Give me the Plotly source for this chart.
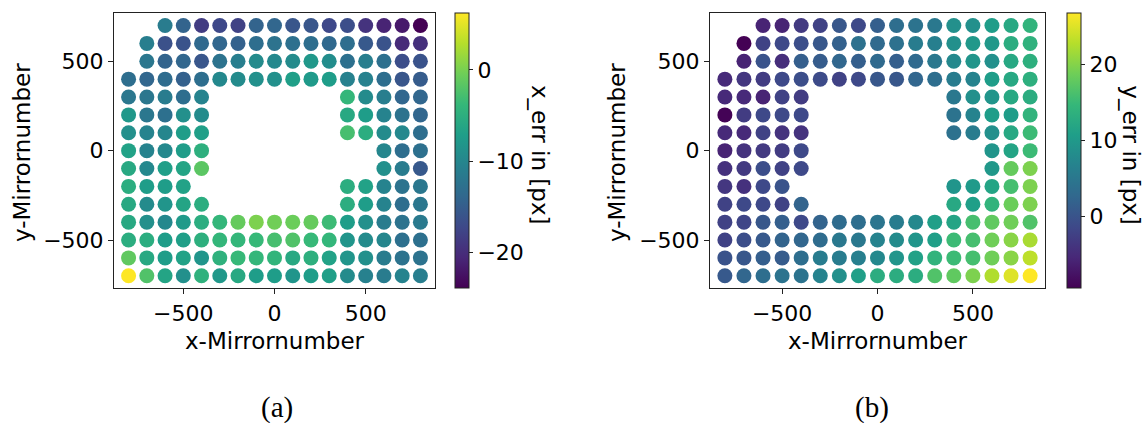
import plotly.graph_objects as go

W, H = 1147, 423

# Mirror grid rows (y-Mirrornumber) and the x-Mirrornumbers present in each row
row_y = [700, 600, 500, 400, 300, 200, 100, 0, -100, -200, -300, -400, -500, -600, -700]
row_x = [
    [-600, -500, -400, -300, -200, -100, 0, 100, 200, 300, 400, 500, 600, 700, 800],
    [-700, -600, -500, -400, -300, -200, -100, 0, 100, 200, 300, 400, 500, 600, 700, 800],
    [-700, -600, -500, -400, -300, -200, -100, 0, 100, 200, 300, 400, 500, 600, 700, 800],
    [-800, -700, -600, -500, -400, -300, -200, -100, 0, 100, 200, 300, 400, 500, 600, 700, 800],
    [-800, -700, -600, -500, -400, 400, 500, 600, 700, 800],
    [-800, -700, -600, -500, -400, 400, 500, 600, 700, 800],
    [-800, -700, -600, -500, -400, 400, 500, 600, 700, 800],
    [-800, -700, -600, -500, -400, 600, 700, 800],
    [-800, -700, -600, -500, -400, 600, 700, 800],
    [-800, -700, -600, -500, 400, 500, 600, 700, 800],
    [-800, -700, -600, -500, -400, 400, 500, 600, 700, 800],
    [-800, -700, -600, -500, -400, -300, -200, -100, 0, 100, 200, 300, 400, 500, 600, 700, 800],
    [-800, -700, -600, -500, -400, -300, -200, -100, 0, 100, 200, 300, 400, 500, 600, 700, 800],
    [-800, -700, -600, -500, -400, -300, -200, -100, 0, 100, 200, 300, 400, 500, 600, 700, 800],
    [-800, -700, -600, -500, -400, -300, -200, -100, 0, 100, 200, 300, 400, 500, 600, 700, 800],
]

# x error [px] per mirror, same row order as row_x
x_err_rows = [
    [-11.3, -14.3, -18.5, -17.3, -17.9, -14.3, -14.0, -15.8, -15.8, -17.3, -16.7, -19.4, -20.9, -21.8, -23.9],
    [-11.0, -16.4, -16.1, -13.7, -14.0, -14.6, -13.1, -12.5, -12.8, -13.1, -13.7, -13.1, -15.5, -16.1, -20.3, -19.7],
    [-11.9, -14.3, -14.0, -15.8, -12.5, -11.0, -9.5, -9.8, -9.5, -7.9, -9.2, -12.8, -11.0, -12.8, -16.7, -16.1],
    [-13.1, -14.0, -13.4, -14.6, -13.1, -9.8, -9.5, -8.9, -8.9, -7.0, -7.6, -7.3, -10.7, -10.7, -13.1, -15.8, -15.2],
    [-11.9, -11.9, -11.3, -13.1, -10.4, -4.0, -9.5, -11.0, -14.0, -14.0],
    [-7.9, -11.9, -12.8, -8.9, -9.5, -5.8, -7.3, -10.4, -12.5, -14.0],
    [-8.9, -10.4, -10.1, -7.3, -7.0, -2.8, -5.2, -9.5, -9.8, -13.1],
    [-6.7, -10.4, -9.8, -7.3, -4.9, -10.1, -13.1, -12.8],
    [-5.8, -9.8, -7.0, -6.4, -1.6, -8.9, -11.3, -15.5],
    [-5.2, -7.3, -7.3, -6.7, -5.2, -6.7, -10.4, -12.5, -11.9],
    [-5.8, -9.5, -8.2, -6.4, -5.2, -5.2, -7.3, -10.4, -13.1, -11.9],
    [-5.8, -8.9, -9.8, -7.6, -5.2, -4.0, -1.0, 0.2, -0.4, -0.7, -1.0, -3.4, -7.3, -8.9, -11.3, -12.5, -11.6],
    [-5.2, -5.2, -7.3, -7.0, -4.9, -4.0, -4.0, -3.7, -2.8, -2.2, -3.7, -4.0, -8.2, -9.5, -10.1, -12.8, -12.8],
    [-1.3, -5.8, -7.3, -6.7, -8.2, -4.6, -3.7, -4.0, -4.3, -5.8, -4.9, -6.7, -8.2, -8.9, -11.3, -12.5, -12.5],
    [6.2, -2.2, -6.4, -8.9, -4.6, -7.9, -5.8, -7.3, -7.3, -8.2, -7.3, -7.0, -9.5, -10.7, -11.3, -10.4, -11.0],
]

# y error [px] per mirror, same row order as row_x
y_err_rows = [
    [-5.9, -5.9, -3.3, -2.3, 0.3, -1.5, 1.4, 3.5, 4.3, 5.0, 8.6, 8.6, 10.4, 12.2, 14.0],
    [-9.5, -2.3, -1.5, -0.8, 0.3, 1.7, 3.9, 2.8, 3.9, 5.7, 6.1, 8.6, 9.7, 9.7, 12.9, 13.7],
    [-5.9, -0.1, -4.8, 1.4, 1.0, 2.4, 1.4, 2.8, 1.4, 2.8, 5.0, 7.5, 9.3, 8.6, 12.2, 13.3],
    [-5.2, -3.7, -3.0, -1.5, -0.8, -1.2, -2.3, -1.5, 0.3, 0.3, 2.4, 3.5, 5.7, 6.8, 10.4, 12.2, 13.3],
    [-5.2, -5.2, -5.9, -2.3, -3.0, 5.0, 8.6, 9.3, 12.2, 12.9],
    [-9.3, -3.0, -1.5, -1.5, -1.5, 4.3, 6.8, 10.4, 10.4, 14.0],
    [-5.2, -5.2, -2.3, -4.1, -4.1, 3.9, 5.7, 8.6, 12.2, 15.1],
    [-5.9, -4.1, -3.3, -3.0, -1.5, 9.3, 11.5, 15.1],
    [-4.4, -3.3, -0.8, -2.3, -1.5, 9.7, 18.0, 19.5],
    [-3.7, -4.4, -1.5, -0.1, 9.3, 10.0, 11.5, 15.8, 19.5],
    [-2.3, -1.5, -1.5, -2.3, 2.1, 12.2, 10.8, 14.0, 18.4, 19.5],
    [-2.3, -1.9, 0.3, 1.4, -1.5, 2.1, 3.2, 3.5, 4.6, 5.7, 7.5, 10.8, 11.5, 15.8, 17.7, 18.7, 16.6],
    [-2.3, -0.8, 0.6, 2.1, 2.4, 3.2, 5.0, 5.0, 6.8, 7.9, 9.3, 10.8, 15.1, 15.8, 18.7, 20.2, 22.0],
    [-0.1, 0.3, 1.4, 1.0, 3.5, 5.7, 5.7, 6.1, 7.5, 9.3, 11.1, 14.0, 15.1, 15.8, 18.7, 20.2, 23.1],
    [0.6, 2.4, 3.5, 4.3, 4.3, 6.8, 8.6, 10.8, 12.9, 12.9, 12.9, 16.6, 17.7, 19.5, 22.4, 24.9, 26.7],
]

axis_ticks = [-500, 0, 500]
x_cbar_ticks = [-20, -10, 0]
y_cbar_ticks = [0, 10, 20]

# flatten
mx, my, xe, ye = [], [], [], []
for yv, xs, ex, ey in zip(row_y, row_x, x_err_rows, y_err_rows):
    for xv, a, b in zip(xs, ex, ey):
        mx.append(xv)
        my.append(yv)
        xe.append(a)
        ye.append(b)

FONT = "DejaVu Sans"
FS_TICK = 22
FS_TITLE = 23


def px_x(p):
    return p / W


def px_y(p):
    return 1 - p / H


def cbar(xpix, ticks):
    return dict(
        x=px_x(xpix), xanchor="left", xpad=0,
        y=px_y(288.3), yanchor="bottom", ypad=0,
        len=(288.3 - 13.0) / H, lenmode="fraction",
        thickness=14, thicknessmode="pixels",
        outlinewidth=1, outlinecolor="#222",
        ticks="outside", ticklen=4, tickcolor="#222", tickwidth=1,
        tickvals=ticks, tickfont=dict(family=FONT, size=FS_TICK, color="black"),
    )


fig = go.Figure()
fig.add_trace(go.Scatter(
    x=mx, y=my, mode="markers", xaxis="x", yaxis="y",
    marker=dict(size=15, color=xe, colorscale="Viridis",
                cmin=min(xe), cmax=max(xe), line=dict(width=0),
                colorbar=cbar(455, x_cbar_ticks)),
    showlegend=False,
))
fig.add_trace(go.Scatter(
    x=mx, y=my, mode="markers", xaxis="x2", yaxis="y2",
    marker=dict(size=15, color=ye, colorscale="Viridis",
                cmin=min(ye), cmax=max(ye), line=dict(width=0),
                colorbar=cbar(1067.3, y_cbar_ticks)),
    showlegend=False,
))

ax_common = dict(
    showgrid=False, zeroline=False, showline=True, mirror=True,
    linecolor="#222", linewidth=1, ticks="outside", ticklen=5,
    tickcolor="#222", tickwidth=1, tickvals=axis_ticks,
    tickfont=dict(family=FONT, size=FS_TICK, color="black"),
)

fig.update_layout(
    width=W, height=H,
    margin=dict(l=0, r=0, t=0, b=0),
    paper_bgcolor="white", plot_bgcolor="white",
    xaxis=dict(domain=[px_x(114), px_x(435)], range=[-880, 880], anchor="y", **ax_common),
    yaxis=dict(domain=[px_y(288.3), px_y(13.0)], range=[-770, 770], anchor="x", **ax_common),
    xaxis2=dict(domain=[px_x(710), px_x(1045)], range=[-878, 878], anchor="y2", **ax_common),
    yaxis2=dict(domain=[px_y(288.3), px_y(13.0)], range=[-770, 770], anchor="x2", **ax_common),
)

annots = [
    ("x-Mirrornumber", 275, 341, 0, FONT, FS_TITLE),
    ("x-Mirrornumber", 878, 341, 0, FONT, FS_TITLE),
    ("y-Mirrornumber", 22, 153, -90, FONT, FS_TITLE),
    ("y-Mirrornumber", 617, 153, -90, FONT, FS_TITLE),
    ("x_err in [px]", 540, 155, 90, FONT, FS_TITLE),
    ("y_err in [px]", 1130.7, 155, 90, FONT, FS_TITLE),
    ("(a)", 277, 407, 0, "Liberation Serif", 29),
    ("(b)", 872, 407, 0, "Liberation Serif", 29),
]
for text, x, y, ang, fam, size in annots:
    fig.add_annotation(
        text=text, x=px_x(x), y=px_y(y), xref="paper", yref="paper",
        xanchor="center", yanchor="middle", showarrow=False, textangle=ang,
        font=dict(family=fam, size=size, color="black"),
    )

fig.write_html("out.html")
